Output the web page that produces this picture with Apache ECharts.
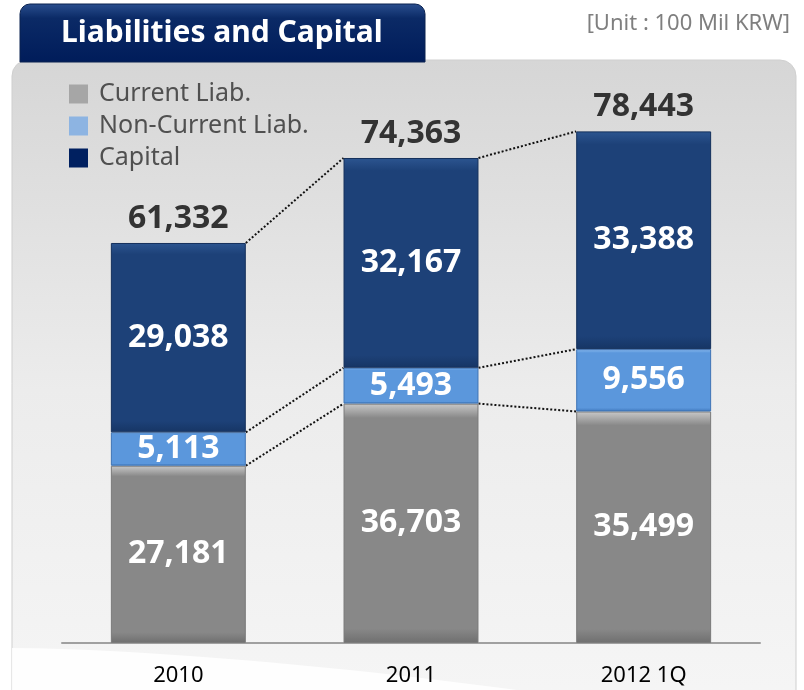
<!DOCTYPE html>
<html>
<head>
<meta charset="utf-8">
<script src="https://cdn.jsdelivr.net/npm/echarts@6/dist/echarts.min.js"></script>
<style>
  html, body { margin: 0; padding: 0; background: #fff; }
  #chart { width: 804px; height: 690px; }
</style>
</head>
<body>
<div id="chart"></div>
<script>
const categories = ['2010', '2011', '2012 1Q']
const currentLiab = [27181, 36703, 35499]
const nonCurrentLiab = [5113, 5493, 9556]
const capital = [29038, 32167, 33388]
const totals = [61332, 74363, 78443]

const barWidthRatio = 0.58
const font = '"Noto Sans", "Open Sans", sans-serif'

function vgrad(stops) {
  return {
    type: 'linear', x: 0, y: 0, x2: 0, y2: 1,
    colorStops: stops.map(s => ({ offset: s[0], color: s[1] }))
  }
}

function grad(top, mid, bottom) {
  return vgrad([[0, top], [0.06, mid], [0.94, mid], [1, bottom]])
}

const fmt = v => v.toLocaleString('en-US')

const chart = echarts.init(document.getElementById('chart'))

// dotted connectors between neighbouring bars at each stack boundary
function renderConnectors(params, api) {
  const i = api.value(0)
  if (i >= categories.length - 1) return
  const band = api.size([1, 0])[0]
  const half = band * barWidthRatio / 2
  const levels = [
    [currentLiab[i], currentLiab[i + 1]],
    [currentLiab[i] + nonCurrentLiab[i], currentLiab[i + 1] + nonCurrentLiab[i + 1]],
    [totals[i], totals[i + 1]]
  ]
  const children = levels.map(l => {
    const a = api.coord([i, l[0]])
    const b = api.coord([i + 1, l[1]])
    return {
      type: 'line',
      shape: { x1: a[0] + half, y1: a[1], x2: b[0] - half, y2: b[1] },
      style: { stroke: '#111', lineWidth: 2, lineDash: [2, 2] }
    }
  })
  return { type: 'group', children }
}

// soft white sweep at the bottom left of the panel
const sweep = [[12, 700], [12, 648]]
for (let t = 0; t <= 1.0001; t += 0.05) {
  sweep.push([12 + t * 520, 648 + 44 * Math.pow(t, 1.6)])
}

chart.setOption({
  animation: false,
  textStyle: { fontFamily: font },
  graphic: [
    {
      type: 'rect', z: -10,
      shape: { x: 12, y: 60, width: 784, height: 660, r: 16 },
      style: {
        fill: vgrad([[0, '#d6d6d6'], [0.5, '#ececec'], [1, '#f6f6f6']]),
        stroke: '#cfcfcf', lineWidth: 1
      }
    },
    {
      type: 'polygon', z: -9,
      shape: { points: sweep },
      style: { fill: 'rgba(255,255,255,0.85)' }
    },
    {
      type: 'rect', z: -5,
      shape: { x: 20, y: 4, width: 405, height: 58, r: [10, 10, 0, 0] },
      style: {
        fill: vgrad([[0, '#2a4f8f'], [0.25, '#0b2a66'], [1, '#001c5a']]),
        stroke: '#0a2250', lineWidth: 1
      }
    },
    {
      type: 'text', z: -4, left: 61, top: 18,
      style: { text: 'Liabilities and Capital', fill: '#fff', font: 'bold 30px ' + font }
    },
    {
      type: 'text', right: 14, top: 13,
      style: { text: '[Unit : 100 Mil KRW]', fill: '#7f7f7f', font: '22px ' + font }
    }
  ],
  legend: {
    orient: 'vertical',
    left: 64,
    top: 76,
    icon: 'rect',
    itemWidth: 19,
    itemHeight: 19,
    itemGap: 6,
    selectedMode: false,
    itemStyle: { borderWidth: 0 },
    textStyle: { fontSize: 25, color: '#505050', lineHeight: 26, padding: [0, 0, 0, 6] },
    data: [
      { name: 'Current Liab.', itemStyle: { color: '#a6a6a6', borderWidth: 0 } },
      { name: 'Non-Current Liab.', itemStyle: { color: '#8db4e2', borderWidth: 0 } },
      { name: 'Capital', itemStyle: { color: '#002060', borderWidth: 0 } }
    ]
  },
  grid: { left: 62, right: 44, top: 56, bottom: 47 },
  xAxis: {
    type: 'category',
    data: categories,
    axisLine: { lineStyle: { color: '#a0a0a0', width: 2 } },
    axisTick: { show: false },
    axisLabel: { fontSize: 22, color: '#000', margin: 22 }
  },
  yAxis: {
    type: 'value', min: 0, max: 90000, show: false, splitLine: { show: false }
  },
  series: [
    {
      name: 'Current Liab.', type: 'bar', stack: 'a', barWidth: '58%',
      data: currentLiab,
      itemStyle: { color: grad('#c9c9c9', '#888888', '#6f6f6f'), borderColor: '#7a7a7a', borderWidth: 1 },
      label: { show: true, position: 'inside', formatter: p => fmt(p.value), color: '#fff', fontSize: 32, fontWeight: 'bold' }
    },
    {
      name: 'Non-Current Liab.', type: 'bar', stack: 'a',
      data: nonCurrentLiab,
      itemStyle: { color: grad('#8cbcf0', '#5b97dc', '#3f78bd'), borderColor: '#3f74b5', borderWidth: 1 },
      label: { show: true, position: 'inside', formatter: p => fmt(p.value), color: '#fff', fontSize: 32, fontWeight: 'bold' }
    },
    {
      name: 'Capital', type: 'bar', stack: 'a',
      data: capital,
      itemStyle: { color: grad('#2c5590', '#1d4178', '#163564'), borderColor: '#14305c', borderWidth: 1 },
      label: { show: true, position: 'inside', formatter: p => fmt(p.value), color: '#fff', fontSize: 32, fontWeight: 'bold' }
    },
    {
      name: 'Total', type: 'scatter', symbolSize: 1,
      data: totals,
      itemStyle: { color: 'rgba(0,0,0,0)' },
      label: { show: true, position: 'top', distance: 8, formatter: p => fmt(p.value), color: '#333333', fontSize: 32, fontWeight: 'bold', opacity: 1 }
    },
    {
      name: 'Links', type: 'custom',
      data: categories.map((c, i) => [i]),
      renderItem: renderConnectors,
      silent: true
    }
  ]
})
</script>
</body>
</html>
